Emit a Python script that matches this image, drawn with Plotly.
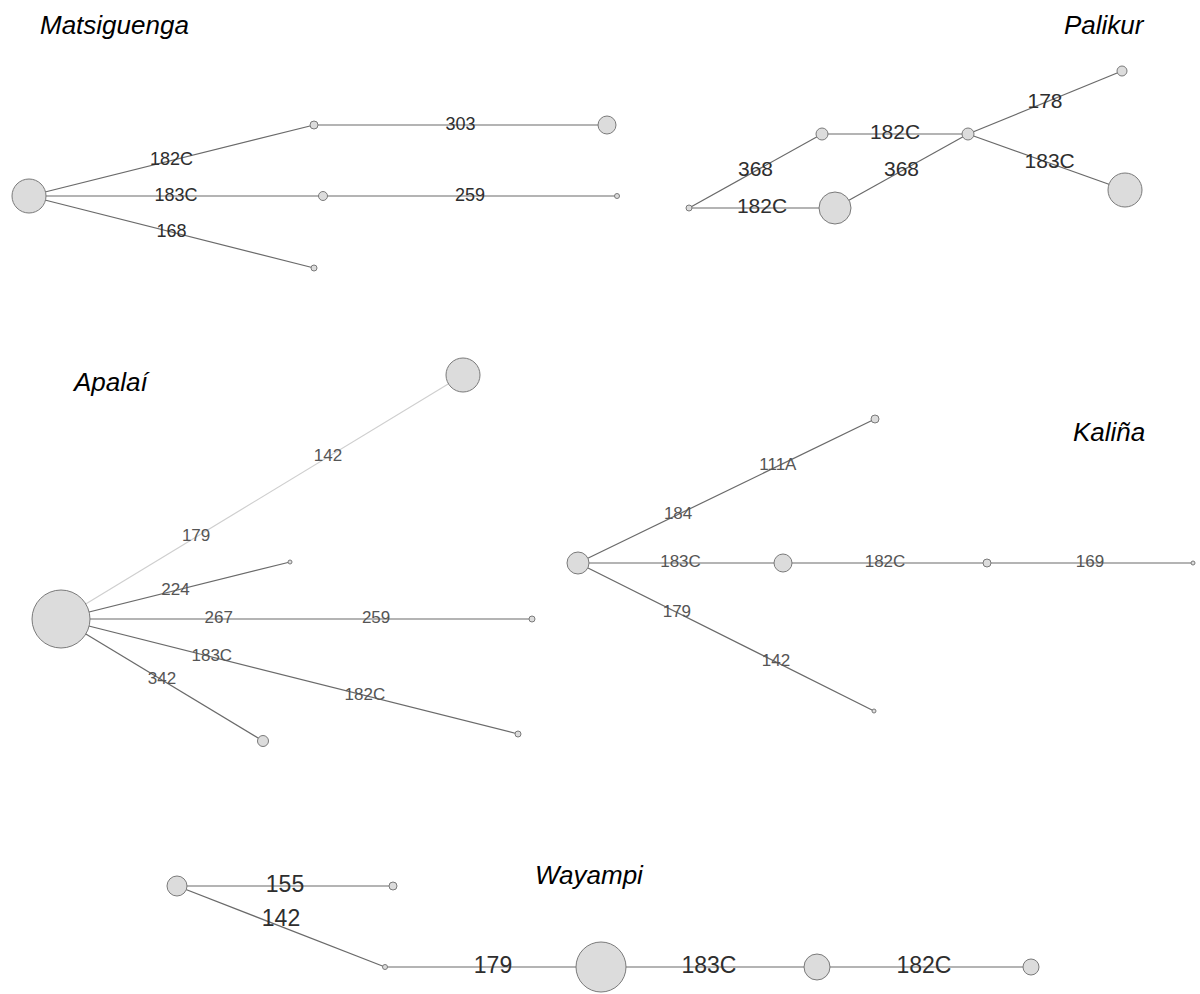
import plotly.graph_objects as go

# ---------------- data ----------------
# Each network: node ids, node x/y (page pixel coordinates of the diagram), node diameter (haplotype frequency)
mats_nodes = ["M0", "M1", "M2", "M3", "M4", "M5"]
mats_x = [29, 314, 607, 323, 617, 314]
mats_y = [196, 125, 125, 196, 196, 268]
mats_d = [34, 8, 18, 9, 5, 6]
mats_edges = [("M0", "M1"), ("M1", "M2"), ("M0", "M3"), ("M3", "M4"), ("M0", "M5")]
mats_labels = [("M0", "M1", "182C", 0.5, 0), ("M1", "M2", "303", 0.5, 0), ("M0", "M3", "183C", 0.5, 0),
               ("M3", "M4", "259", 0.5, 0), ("M0", "M5", "168", 0.5, 0)]

pali_nodes = ["P0", "P1", "P2", "P3", "P4", "P5"]
pali_x = [689, 822, 835, 968, 1122, 1125]
pali_y = [208, 134, 208, 134, 71, 190]
pali_d = [6, 12, 32, 12, 10, 34]
pali_edges = [("P0", "P1"), ("P0", "P2"), ("P1", "P3"), ("P2", "P3"), ("P3", "P4"), ("P3", "P5")]
pali_labels = [("P0", "P1", "368", 0.5, 0), ("P0", "P2", "182C", 0.5, 0), ("P1", "P3", "182C", 0.5, 0),
               ("P2", "P3", "368", 0.5, 0), ("P3", "P4", "178", 0.5, 0), ("P3", "P5", "183C", 0.52, 0)]

apal_nodes = ["A0", "A1", "A2", "A3", "A4", "A5"]
apal_x = [61, 463, 290, 532, 518, 263]
apal_y = [619, 375, 562, 619, 734, 741]
apal_d = [58, 34, 4, 6, 6, 11]
apal_edges = [("A0", "A1"), ("A0", "A2"), ("A0", "A3"), ("A0", "A4"), ("A0", "A5")]
apal_labels = [("A0", "A1", "179", 0.336, 0), ("A0", "A1", "142", 0.664, 0), ("A0", "A2", "224", 0.5, 0),
               ("A0", "A3", "267", 0.335, 0), ("A0", "A3", "259", 0.669, 0), ("A0", "A4", "183C", 0.33, 0),
               ("A0", "A4", "182C", 0.665, 0), ("A0", "A5", "342", 0.5, 0)]

kali_nodes = ["K0", "K1", "K2", "K3", "K4", "K5"]
kali_x = [578, 875, 783, 987, 1193, 874]
kali_y = [563, 419, 563, 563, 563, 711]
kali_d = [22, 8, 18, 8, 4, 4]
kali_edges = [("K0", "K1"), ("K0", "K2"), ("K2", "K3"), ("K3", "K4"), ("K0", "K5")]
kali_labels = [("K0", "K1", "184", 0.337, 0), ("K0", "K1", "111A", 0.673, 0), ("K0", "K2", "183C", 0.5, 0),
               ("K2", "K3", "182C", 0.5, 0), ("K3", "K4", "169", 0.5, 0), ("K0", "K5", "179", 0.334, 0),
               ("K0", "K5", "142", 0.669, 0)]

waya_nodes = ["W0", "W1", "W2", "W3", "W4", "W5"]
waya_x = [177, 393, 385, 601, 817, 1031]
waya_y = [886, 886, 967, 967, 967, 967]
waya_d = [20, 8, 5, 50, 26, 16]
waya_edges = [("W0", "W1"), ("W0", "W2"), ("W2", "W3"), ("W3", "W4"), ("W4", "W5")]
waya_labels = [("W0", "W1", "155", 0.5, 0), ("W0", "W2", "142", 0.5, -6), ("W2", "W3", "179", 0.5, 0),
               ("W3", "W4", "183C", 0.5, 0), ("W4", "W5", "182C", 0.5, 0)]

titles = ["Matsiguenga", "Palikur", "Apalaí", "Kaliña", "Wayampi"]
title_x = [38, 1147, 70, 1147, 589]
title_y = [25, 25, 382, 432, 875]
title_anchor = ["left", "right", "left", "right", "center"]

networks = [
    (mats_nodes, mats_x, mats_y, mats_d, mats_edges, mats_labels, 18, "#2e2e2e"),
    (pali_nodes, pali_x, pali_y, pali_d, pali_edges, pali_labels, 21, "#2e2e2e"),
    (apal_nodes, apal_x, apal_y, apal_d, apal_edges, apal_labels, 17, "#555555"),
    (kali_nodes, kali_x, kali_y, kali_d, kali_edges, kali_labels, 17, "#555555"),
    (waya_nodes, waya_x, waya_y, waya_d, waya_edges, waya_labels, 23, "#2e2e2e"),
]

FONT = "Liberation Sans, Arial, sans-serif"
fig = go.Figure()

# edges first
for nodes, xs, ys, ds, edges, labels, fsize, lcol in networks:
    pos = {n: (x, y) for n, x, y in zip(nodes, xs, ys)}
    for a, b in edges:
        col = "#cfcfcf" if (a, b) == ("A0", "A1") else "#6a6a6a"
        fig.add_trace(go.Scatter(x=[pos[a][0], pos[b][0]], y=[pos[a][1], pos[b][1]],
                                 mode="lines", line=dict(color=col, width=1.2),
                                 hoverinfo="skip", showlegend=False))
# labels
for nodes, xs, ys, ds, edges, labels, fsize, lcol in networks:
    pos = {n: (x, y) for n, x, y in zip(nodes, xs, ys)}
    lx, ly, lt = [], [], []
    for a, b, txt, t, dy in labels:
        lx.append(pos[a][0] + (pos[b][0] - pos[a][0]) * t)
        ly.append(pos[a][1] + (pos[b][1] - pos[a][1]) * t + dy)
        lt.append(txt)
    fig.add_trace(go.Scatter(x=lx, y=ly, mode="text", text=lt,
                             textfont=dict(family=FONT, size=fsize, color=lcol),
                             textposition="middle center", hoverinfo="skip", showlegend=False))
# nodes on top
for nodes, xs, ys, ds, edges, labels, fsize, lcol in networks:
    fig.add_trace(go.Scatter(x=xs, y=ys, mode="markers",
                             marker=dict(size=ds, color="#dcdcdc", opacity=1,
                                         line=dict(color="#7a7a7a", width=1)),
                             text=nodes, hoverinfo="text", showlegend=False))

for t, x, y, anc in zip(titles, title_x, title_y, title_anchor):
    fig.add_annotation(x=x, y=y, text="<i>%s</i>" % t, showarrow=False, xanchor=anc,
                       yanchor="middle", font=dict(family=FONT, size=26, color="#000000"))

fig.update_layout(width=1200, height=994, margin=dict(l=0, r=0, t=0, b=0),
                  paper_bgcolor="white", plot_bgcolor="white",
                  xaxis=dict(range=[0, 1200], visible=False, fixedrange=True),
                  yaxis=dict(range=[994, 0], visible=False, fixedrange=True))

fig.write_html("out.html", config={"displayModeBar": False},
               post_script="document.body.style.margin='0';document.body.style.padding='0';"
                           "document.body.style.overflow='hidden';")
